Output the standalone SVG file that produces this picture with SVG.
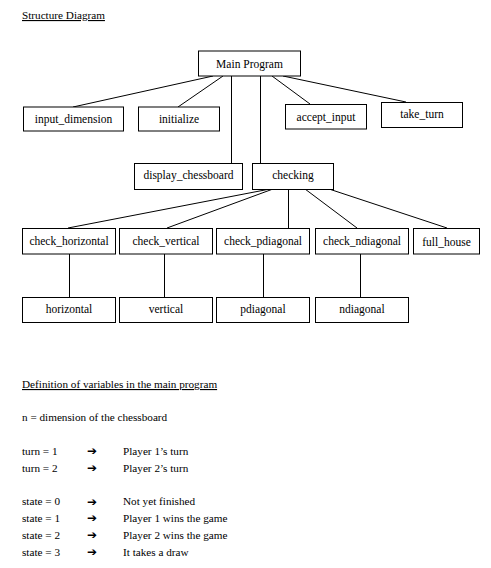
<svg xmlns="http://www.w3.org/2000/svg" width="491" height="568" viewBox="0 0 491 568">
<style>
  .box { fill: #ffffff; stroke: #000000; stroke-width: 1; }
  .lbl { font-family: "Liberation Serif", "Times New Roman", serif; font-size: 11.5px; fill: #000000; text-anchor: middle; }
  .txt { font-family: "Liberation Serif", "Times New Roman", serif; font-size: 11.2px; fill: #000000; }
  .ul { text-decoration: underline; }
  .arr { font-family: "DejaVu Sans", sans-serif; font-size: 12px; fill: #000000; font-weight: bold; }
  .conn line { stroke: #000000; stroke-width: 1; }
</style>
<rect x="0" y="0" width="491" height="568" fill="#ffffff"/>
<text class="txt ul" x="22" y="19">Structure Diagram</text>

<g id="connectors" class="conn">
  <line x1="213" y1="76" x2="73" y2="107"/>
  <line x1="223" y1="76" x2="178" y2="107"/>
  <line x1="231.5" y1="76" x2="231.5" y2="163"/>
  <line x1="260.5" y1="76" x2="260.5" y2="163"/>
  <line x1="272" y1="76" x2="310" y2="104"/>
  <line x1="283" y1="76" x2="406" y2="102"/>
  <line x1="270" y1="189" x2="68" y2="228"/>
  <line x1="273" y1="189" x2="167" y2="228"/>
  <line x1="288.5" y1="189" x2="288.5" y2="228"/>
  <line x1="305" y1="189" x2="357" y2="228"/>
  <line x1="329" y1="189" x2="447" y2="228"/>
  <line x1="69.5" y1="254" x2="69.5" y2="297"/>
  <line x1="164.5" y1="254" x2="164.5" y2="297"/>
  <line x1="263.5" y1="254" x2="263.5" y2="297"/>
  <line x1="360.5" y1="254" x2="360.5" y2="297"/>
</g>

<g id="main_program"><rect class="box" x="198.5" y="51" width="102" height="25"/><text class="lbl" x="249.5" y="67.5">Main Program</text></g>
<g id="input_dimension"><rect class="box" x="23.5" y="107" width="100" height="24"/><text class="lbl" x="73.5" y="122.5">input_dimension</text></g>
<g id="initialize"><rect class="box" x="138.5" y="107" width="81" height="24"/><text class="lbl" x="179" y="122.5">initialize</text></g>
<g id="accept_input"><rect class="box" x="285.5" y="104.5" width="81" height="24.5"/><text class="lbl" x="326" y="120.5">accept_input</text></g>
<g id="take_turn"><rect class="box" x="381.5" y="102.5" width="81" height="25"/><text class="lbl" x="422" y="118">take_turn</text></g>
<g id="display_chessboard"><rect class="box" x="134.5" y="163.5" width="108" height="26"/><text class="lbl" x="188.5" y="179">display_chessboard</text></g>
<g id="checking"><rect class="box" x="252.5" y="163.5" width="81" height="26"/><text class="lbl" x="293" y="179">checking</text></g>

<g id="check_horizontal"><rect class="box" x="22.5" y="228.5" width="93" height="25.5"/><text class="lbl" x="69" y="244.5">check_horizontal</text></g>
<g id="check_vertical"><rect class="box" x="119.5" y="228.5" width="93" height="25.5"/><text class="lbl" x="166" y="244.5">check_vertical</text></g>
<g id="check_pdiagonal"><rect class="box" x="216.5" y="228.5" width="93" height="25.5"/><text class="lbl" x="263" y="244.5">check_pdiagonal</text></g>
<g id="check_ndiagonal"><rect class="box" x="315.5" y="228.5" width="93" height="25.5"/><text class="lbl" x="362" y="244.5">check_ndiagonal</text></g>
<g id="full_house"><rect class="box" x="413.5" y="228.5" width="66" height="25.5"/><text class="lbl" x="446.5" y="245.5">full_house</text></g>

<g id="horizontal"><rect class="box" x="22.5" y="297.5" width="93" height="25"/><text class="lbl" x="69" y="313">horizontal</text></g>
<g id="vertical"><rect class="box" x="119.5" y="297.5" width="93" height="25"/><text class="lbl" x="166" y="313">vertical</text></g>
<g id="pdiagonal"><rect class="box" x="216.5" y="297.5" width="93" height="25"/><text class="lbl" x="263" y="313">pdiagonal</text></g>
<g id="ndiagonal"><rect class="box" x="315.5" y="297.5" width="93" height="25"/><text class="lbl" x="362" y="313">ndiagonal</text></g>

<text class="txt ul" x="22" y="388">Definition of variables in the main program</text>
<text class="txt" x="22" y="421">n = dimension of the chessboard</text>

<text class="txt" x="22" y="454.5">turn = 1</text>
<text class="arr" x="87" y="455">➔</text>
<text class="txt" x="123" y="454.5">Player 1’s turn</text>
<text class="txt" x="22" y="471.5">turn = 2</text>
<text class="arr" x="87" y="472">➔</text>
<text class="txt" x="123" y="471.5">Player 2’s turn</text>

<text class="txt" x="22" y="505">state = 0</text>
<text class="arr" x="87" y="505.5">➔</text>
<text class="txt" x="123" y="505">Not yet finished</text>
<text class="txt" x="22" y="521.5">state = 1</text>
<text class="arr" x="87" y="522">➔</text>
<text class="txt" x="123" y="521.5">Player 1 wins the game</text>
<text class="txt" x="22" y="538.5">state = 2</text>
<text class="arr" x="87" y="539">➔</text>
<text class="txt" x="123" y="538.5">Player 2 wins the game</text>
<text class="txt" x="22" y="555.5">state = 3</text>
<text class="arr" x="87" y="556">➔</text>
<text class="txt" x="123" y="555.5">It takes a draw</text>
</svg>
